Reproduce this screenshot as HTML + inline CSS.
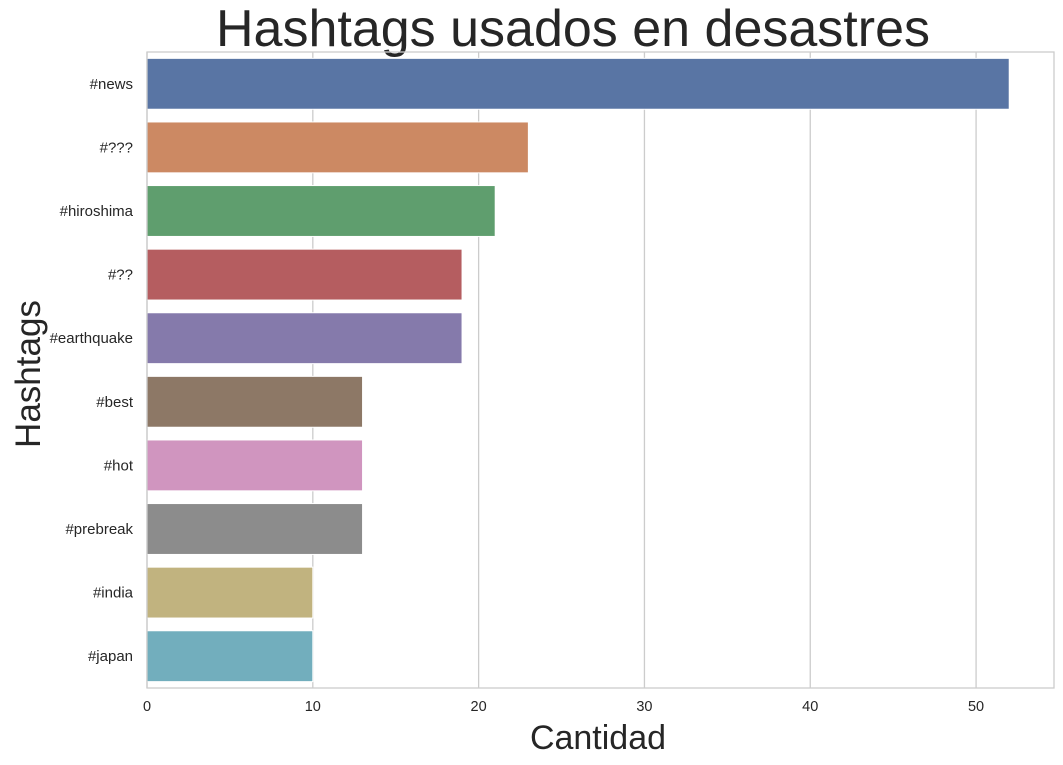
<!DOCTYPE html>
<html><head><meta charset="utf-8"><style>
body{margin:0;background:#fff;}
svg{display:block;font-family:"Liberation Sans",Arial,sans-serif;}
</style></head><body>
<svg id="chart" width="1063" height="765">
<text x="573" y="46" text-anchor="middle" font-size="52" fill="#262626">Hashtags usados en desastres</text>
<g id="grid"></g><g id="bars"></g><g id="ticks"></g>
<rect x="147" y="52" width="907" height="636" fill="none" stroke="#cccccc" stroke-width="1.3"/>
<text x="598" y="749" text-anchor="middle" font-size="34" fill="#262626">Cantidad</text>
<text transform="translate(40,374) rotate(-90)" text-anchor="middle" font-size="35" fill="#262626">Hashtags</text>
</svg>
<script>
const categories=["#news","#???","#hiroshima","#??","#earthquake","#best","#hot","#prebreak","#india","#japan"];
const values=[52,23,21,19,19,13,13,13,10,10];
const colors=["#5975a4","#cc8963","#5f9e6e","#b55d60","#857aab","#8d7866","#d095bf","#8c8c8c","#c1b37f","#72aebd"];
const xTicks=[0,10,20,30,40,50];
const L=147,T=52,W=907,H=636,XMAX=54.7;
const NS="http://www.w3.org/2000/svg";
const x=v=>L+v/XMAX*W;
const band=H/categories.length;
const y=i=>T+i*band;
function mk(t,a,p){const e=document.createElementNS(NS,t);for(const k in a)e.setAttribute(k,a[k]);p.appendChild(e);return e;}
const g=document.getElementById('grid'),b=document.getElementById('bars'),tk=document.getElementById('ticks');
xTicks.forEach(v=>{
 const l=mk('line',{x1:x(v),x2:x(v),y1:T,y2:T+H,stroke:'#cccccc','stroke-width':1.3},g);
 
 
 const t=mk('text',{x:x(v),y:T+H+23,'text-anchor':'middle','font-size':14.5,fill:'#262626'},tk);
 t.textContent=v;
 
 
});
categories.forEach((c,i)=>{
 const r=mk('rect',{x:x(0),y:y(i)+band*0.1,width:x(values[i])-x(0),height:band*0.8,fill:colors[i],stroke:'#fff','stroke-width':1},b);
 
 
 const t=mk('text',{x:L-14,y:y(i)+band/2+5,'text-anchor':'end','font-size':15,fill:'#262626'},tk);
 t.textContent=c;
 
 
});
</script>
</body></html>
